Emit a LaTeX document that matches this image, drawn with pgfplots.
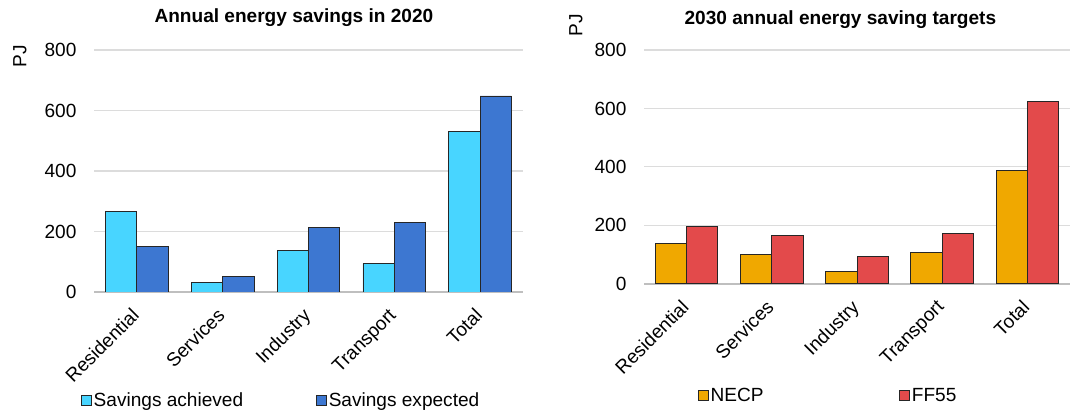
\documentclass[border=0pt]{standalone}
\usepackage{fontspec}
\setmainfont{Liberation Sans}
\usepackage{pgfplots}
\pgfplotsset{compat=1.18}
\definecolor{cyanbar}{HTML}{48D5FF}
\definecolor{bluebar}{HTML}{3D77D1}
\definecolor{orangebar}{HTML}{F0A800}
\definecolor{redbar}{HTML}{E34A4B}
\definecolor{gridgray}{HTML}{DCDCDC}
\definecolor{axisgray}{HTML}{BFBFBF}
\newcommand{\fs}{\fontsize{14.3}{16}\selectfont}
\pgfplotsset{
  common/.style={
    scale only axis,
    anchor=south west,
    ybar=0pt, bar width=23.5pt,
    ymin=0, ymax=800, ytick={0,200,400,600,800},
    xmin=-0.5, xmax=4.5, xtick=data,
    xticklabels={Residential,Services,Industry,Transport,Total},
    /pgf/number format/assume math mode=true,
    tick label style={font=\fs},
    x tick label style={rotate=45, anchor=north east, inner sep=0pt, yshift=-4.3pt, xshift=-11.3pt},
    y tick label style={anchor=east, inner sep=0pt, xshift=-13pt},
    ymajorgrids, grid style={draw=gridgray, line width=0.9pt},
    major tick length=0pt,
    axis x line=bottom, axis y line=left,
    x axis line style={draw=axisgray, line width=1.2pt, -},
    y axis line style={draw=none},
    every axis plot/.append style={draw=black!85, line width=0.7pt},
    title style={font=\bfseries\fs, anchor=base},
    ylabel={PJ}, ylabel style={font=\fs, rotate=0, anchor=center},
    legend columns=2,
    legend style={draw=none, fill=none, font=\fs, anchor=center,
      nodes={inner sep=1.5pt}},
    legend image code/.code={\draw[#1, draw=black!85, line width=0.7pt] (0pt,-3.9pt) rectangle (7.5pt,3.6pt);},
  }
}
\begin{document}
\begin{tikzpicture}
\useasboundingbox (0,0) rectangle (802.5pt,307.5pt);
\begin{axis}[common,
  at={(70.5pt,88.5pt)}, width=321.75pt, height=181.5pt,
  title={Annual energy savings in 2020},
  title style={at={(axis description cs:0.466,1)}, yshift=15pt},
  ylabel style={at={(axis description cs:-0.1725,0.975)}},
  legend style={at={(axis description cs:0.436,-0.449)},
    /tikz/every even column/.append style={column sep=53pt}},
]
\addplot[fill=cyanbar] coordinates {(0,265) (1,33) (2,137) (3,94) (4,532)};
\addplot[fill=bluebar] coordinates {(0,152) (1,50) (2,212) (3,229) (4,648)};
\legend{Savings achieved, Savings expected}
\end{axis}
\begin{axis}[common,
  at={(483pt,94.7pt)}, width=319.5pt, height=175.3pt,
  title={2030 annual energy saving targets},
  title style={at={(axis description cs:0.461,1)}, yshift=13.5pt},
  ylabel style={at={(axis description cs:-0.16,1.107)}},
  legend style={at={(axis description cs:0.432,-0.478)},
    /tikz/every even column/.append style={column sep=100pt}},
]
\addplot[fill=orangebar] coordinates {(0,138) (1,101) (2,41) (3,108) (4,389)};
\addplot[fill=redbar] coordinates {(0,195) (1,164) (2,92) (3,172) (4,624)};
\legend{NECP, FF55}
\end{axis}
\end{tikzpicture}
\end{document}
